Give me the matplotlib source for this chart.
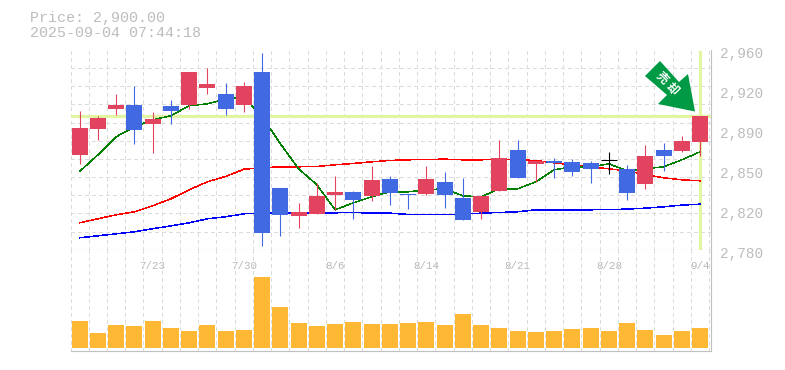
# Candlestick chart with moving averages and volume panel
import numpy as np
import matplotlib
matplotlib.use("Agg")
from matplotlib import pyplot as plt
from matplotlib.patches import Polygon
from matplotlib.transforms import Affine2D, ScaledTranslation

open_price = [2865, 2889, 2907, 2910, 2893, 2909, 2910, 2926, 2920, 2910, 2940, 2836,
              2810, 2812, 2829, 2832, 2828, 2844, 2830, 2830, 2841, 2827, 2814, 2833,
              2870, 2857, 2860, 2859, 2858, 2861, 2853, 2839, 2870, 2869, 2877]
high_price = [2905, 2900, 2920, 2927, 2904, 2915, 2940, 2944, 2930, 2931, 2957, 2836,
              2822, 2840, 2846, 2833, 2855, 2846, 2830, 2855, 2850, 2845, 2828, 2879,
              2879, 2860, 2863, 2862, 2860, 2868, 2856, 2874, 2876, 2882, 2900]
low_price = [2857, 2879, 2901, 2875, 2867, 2893, 2907, 2920, 2901, 2904, 2783, 2792,
             2800, 2812, 2816, 2808, 2824, 2820, 2817, 2829, 2818, 2807, 2808, 2833,
             2845, 2841, 2845, 2846, 2840, 2848, 2825, 2835, 2851, 2868, 2864]
close_price = [2890, 2899, 2910, 2888, 2898, 2905, 2940, 2929, 2907, 2927, 2795, 2811,
               2814, 2828, 2832, 2825, 2843, 2831, 2829, 2844, 2829, 2807, 2828, 2863,
               2845, 2860, 2858, 2850, 2853, 2861, 2831, 2864, 2864, 2878, 2900]
volume = [27, 15, 23, 22, 27, 20, 17, 23, 17, 18, 71, 41, 25, 22, 24, 26, 24, 24,
          25, 26, 23, 34, 23, 20, 17, 16, 17, 19, 20, 17, 25, 18, 13, 17, 20]

ma_short = [2850.5, 2865.5, 2881.7, 2890.7, 2897, 2900.6, 2909.6, 2911.4, 2915.5, 2917.7,
            2899.7, 2875.4, 2852.9, 2838.5, 2816, 2822.3, 2827.7, 2832.2, 2832.2, 2834,
            2834.9, 2828.6, 2827.7, 2834.9, 2834.9, 2841.2, 2852, 2854.7, 2854.7, 2857.4,
            2851.1, 2852.9, 2854.7, 2861, 2868.2]
ma_mid = [2804.3, 2807.9, 2811.5, 2814.2, 2819.6, 2825.9, 2834, 2841.2, 2846, 2852.5,
          2853.8, 2854.7, 2854.7, 2855, 2856.5, 2857.7, 2859.2, 2860.4, 2861, 2861.3,
          2861.6, 2861, 2861, 2861.6, 2861, 2860.4, 2858.3, 2856.5, 2854.7, 2852.9,
          2851.1, 2847.5, 2844.8, 2843, 2842.1]
ma_long = [2790.8, 2792.6, 2794.4, 2796.2, 2798.9, 2801.6, 2804.3, 2807.9, 2809.7, 2812.4,
           2813.3, 2813.3, 2813.3, 2813.3, 2813.3, 2813.6, 2813, 2813, 2811.8, 2811.8,
           2811.8, 2812.1, 2813, 2813.6, 2814.2, 2816, 2816, 2816, 2816, 2816.3,
           2816.6, 2817.5, 2818.7, 2820.2, 2821.1]

date_labels = ["7/23", "7/30", "8/6", "8/14", "8/21", "8/28", "9/4"]
date_index = [4, 9, 14, 19, 24, 29, 34]
price_ticks = [2960, 2924, 2888, 2852, 2816, 2780]
price_labels = ["2,960", "2,920", "2,890", "2,850", "2,820", "2,780"]
last_price = 2900

W, H = 785, 370
RED = "#e2435f"
BLUE = "#4169e1"
GRAY = "#bdbdbd"
GRID = "#dcdcdc"
MARK = "#e2f5a3"
px = 0.72  # one pixel in points

plt.rcParams["font.family"] = ["Liberation Mono", "DejaVu Sans Mono"]

fig = plt.figure(figsize=(W / 100, H / 100), dpi=100)
left, right = 70.5, 710.5
ax = fig.add_axes([left / W, 1 - 249.8 / H, (right - left) / W, 200 / H])
ax_vol = fig.add_axes([left / W, 1 - 350.5 / H, (right - left) / W, 100.7 / H])

n = len(close_price)
x = np.arange(n)
xlim = (-0.5, n - 0.5 + 0.07)
edges = np.arange(n + 1) - 0.5

for a in (ax, ax_vol):
    a.set_xlim(*xlim)
    a.set_axisbelow(True)
    a.set_xticks(edges, minor=True)
    a.grid(True, which="minor", axis="x", color=GRID, lw=px, linestyle=(0, (3, 3)), antialiased=False)
    a.tick_params(which="both", length=0)
    for s in ("top", "left"):
        a.spines[s].set_visible(False)
    for s in ("bottom", "right"):
        a.spines[s].set_color("#c0c0c0")
        a.spines[s].set_linewidth(1.1 * px)

# price panel
ax.set_ylim(2780, 2960)
ax.set_yticks(np.linspace(2780, 2960, 12), minor=True)
ax.grid(True, which="minor", axis="y", color=GRID, lw=px, linestyle=(0, (3, 3)), antialiased=False)
ax.set_xticks([])
ax.yaxis.tick_right()
ax.set_yticks(price_ticks, price_labels)
ax.tick_params(axis="y", which="major", pad=6.5, labelsize=10.4, labelcolor=GRAY)
shift = ScaledTranslation(0, -2.5 / 100, fig.dpi_scale_trans)
for lab in ax.get_yticklabels():
    lab.set_transform(lab.get_transform() + shift)

ax.axhline(last_price, color=MARK, lw=3.2 * px, zorder=1.5)
ax.axvline(x[-1], ymin=0.01, ymax=0.99, color=MARK, lw=3.2 * px, zorder=1.5)

ax.plot(x, ma_mid, color="#ff0000", lw=0.35, antialiased=False, zorder=2)
ax.plot(x, ma_long, color="#0000ff", lw=0.35, antialiased=False, zorder=2)
ax.plot(x, ma_short, color="#008000", lw=0.35, antialiased=False, zorder=2)

for i in range(n):
    o, h, l, c = open_price[i], high_price[i], low_price[i], close_price[i]
    col = "#000000" if o == c else (RED if c > o else BLUE)
    ax.vlines(x[i], l, h, color=col, lw=1.1 * px, zorder=3)
    if o == c:
        ax.hlines(c, x[i] - 0.44, x[i] + 0.44, color=col, lw=px, zorder=3)
    else:
        ax.bar(x[i], abs(c - o), bottom=min(o, c), width=0.875, color=col, zorder=3)

# volume panel
ax_vol.set_ylim(-2.5, 98.2)
ax_vol.set_yticks([])
ax_vol.bar(x, volume, width=0.875, color="#ffb833", zorder=3)
ax_vol.xaxis.tick_top()
ax_vol.set_xticks(date_index, date_labels)
ax_vol.tick_params(axis="x", which="major", pad=-15.5, labelsize=7.8, labelcolor="#b8b8b8")

# arrow badge pointing at the last candle, outline in pixels from the top left
to_pixels = Affine2D().scale(1, -1).translate(0, H)
badge = [(660, 61), (679, 82), (688, 74), (695, 111.5), (658, 104), (667, 95), (645, 76)]
fig.add_artist(Polygon(badge, closed=True, facecolor="#009944", edgecolor="none",
                       transform=to_pixels, zorder=5))
for ch, (tx, ty) in zip("売却", [(661.7, 78), (672, 89)]):
    fig.text(tx / W, 1 - ty / H, ch, color="white", fontsize=8.5, fontweight="bold",
             family=["Noto Sans CJK JP", "DejaVu Sans"], rotation=-45,
             ha="center", va="center", rotation_mode="anchor", zorder=6)

# header
fig.text(30 / W, 1 - 18 / H, "Price: 2,900.00", color=GRAY, fontsize=10.8, va="center")
fig.text(30 / W, 1 - 33 / H, "2025-09-04 07:44:18", color=GRAY, fontsize=10.8, va="center")

fig.savefig("out.png", dpi=100)
